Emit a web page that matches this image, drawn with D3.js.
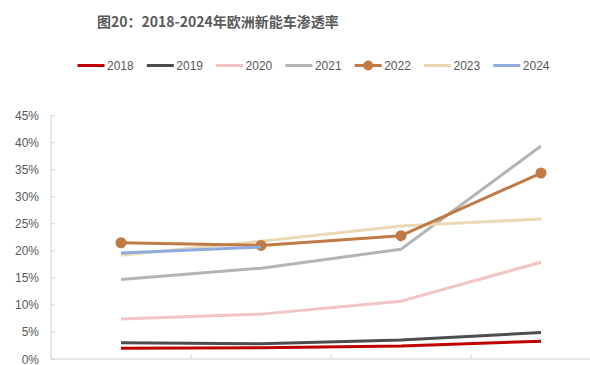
<!DOCTYPE html>
<html><head><meta charset="utf-8">
<script src="https://cdn.jsdelivr.net/npm/d3@7"></script>
<style>body{margin:0;background:#fff;}svg{display:block;}</style>
</head><body>
<svg id="c" width="590" height="365"></svg>
<script>
const categories = ["Q1","Q2","Q3","Q4"];
const seriesNames = ["2018","2019","2020","2021","2022","2023","2024"];
const s2018 = [2.0, 2.1, 2.4, 3.3];
const s2019 = [3.0, 2.8, 3.5, 4.9];
const s2020 = [7.4, 8.3, 10.7, 17.9];
const s2021 = [14.7, 16.8, 20.3, 39.4];
const s2022 = [21.5, 21.0, 22.8, 34.4];
const s2023 = [19.2, 21.8, 24.6, 25.9];
const s2024 = [19.6, 20.7];
const yTicks = [0,5,10,15,20,25,30,35,40,45];
const colors = ["#C00000","#4D4D4D","#F2C4C4","#B4B4B4","#C07A45","#EBD9B6","#8FAADC"];
const allValues = [s2018,s2019,s2020,s2021,s2022,s2023,s2024];

const svg = d3.select("#c");
const font = "'Liberation Sans', Arial, sans-serif";

svg.append("text").attr("x",97).attr("y",27)
  .attr("font-family","'Noto Sans CJK SC', sans-serif").attr("font-weight","bold")
  .attr("font-size",14).attr("fill","#595959")
  .text("图20：2018-2024年欧洲新能车渗透率");

const x = d3.scaleBand().domain(categories).range([51, 611]).padding(0);
const y = d3.scaleLinear().domain([0,45]).range([359, 115.7]);
const cx = c => x(c) + x.bandwidth()/2;

// axes
const g = svg.append("g");
g.append("line").attr("x1",51).attr("x2",51).attr("y1",y(45)).attr("y2",359).attr("stroke","#D0D0D0");
g.append("line").attr("x1",51).attr("x2",590).attr("y1",359).attr("y2",359).attr("stroke","#D0D0D0");
yTicks.forEach(t=>{
  g.append("line").attr("x1",51).attr("x2",55).attr("y1",y(t)).attr("y2",y(t)).attr("stroke","#D0D0D0");
  g.append("text").attr("x",39).attr("y",y(t)+4.5).attr("text-anchor","end")
    .attr("font-family",font).attr("font-size",12).attr("fill","#595959").text(t+"%");
});
categories.slice(1).forEach(c=>{
  g.append("line").attr("x1",x(c)).attr("x2",x(c)).attr("y1",359).attr("y2",355).attr("stroke","#D0D0D0");
});

// lines
const line = d3.line().x((d,i)=>cx(categories[i])).y(d=>y(d));
const order = [0,1,2,3,5,4,6];
order.forEach(k=>{
  svg.append("path").datum(allValues[k]).attr("d",line)
    .attr("fill","none").attr("stroke",colors[k]).attr("stroke-width",3)
    .attr("stroke-linejoin","round");
  if (seriesNames[k]==="2022") {
    svg.selectAll(null).data(allValues[k]).enter().append("circle")
      .attr("cx",(d,i)=>cx(categories[i])).attr("cy",d=>y(d)).attr("r",5.5).attr("fill",colors[k]);
  }
});

// legend
const lg = svg.append("g");
seriesNames.forEach((n,i)=>{
  const lx = 77.5 + i*69.3;
  lg.append("line").attr("x1",lx).attr("x2",lx+27).attr("y1",65.5).attr("y2",65.5)
    .attr("stroke",colors[i]).attr("stroke-width",3);
  if (n==="2022") lg.append("circle").attr("cx",lx+13.5).attr("cy",65.5).attr("r",5).attr("fill",colors[i]);
  lg.append("text").attr("x",lx+29.5).attr("y",70).attr("font-family",font).attr("font-size",12)
    .attr("fill","#595959").text(n);
});
</script>
</body></html>
